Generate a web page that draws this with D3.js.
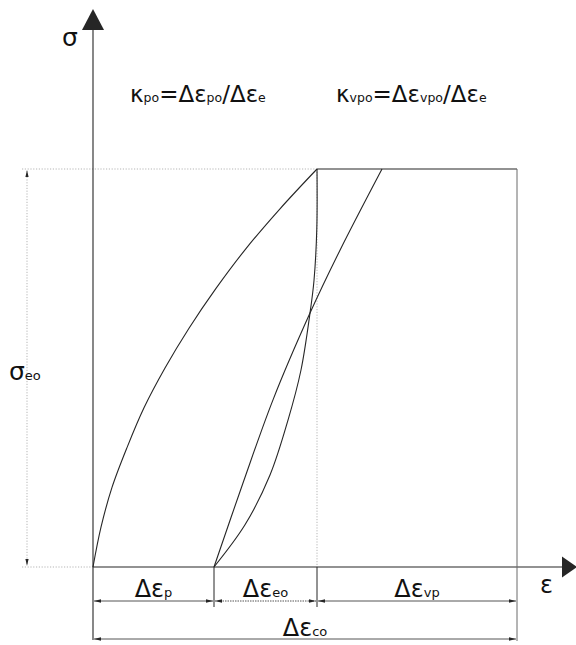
<!DOCTYPE html>
<html><head><meta charset="utf-8">
<script src="https://cdn.jsdelivr.net/npm/d3@7"></script>
<style>
html,body{margin:0;padding:0;background:#fff;}
svg{display:block;font-family:"DejaVu Sans","Liberation Sans",Arial,sans-serif;}
</style></head>
<body>
<svg id="c" width="576" height="645"></svg>
<script>
// ---- data (strain in arbitrary units, stress normalised to sigma_eo = 1) ----
const loadEps   = [0, 0.8, 1.9, 3.4, 5.1, 7.2, 9.6, 12.3, 15.3, 18.7, 22.4];
const loadSig   = [0, 0.1, 0.2, 0.3, 0.4, 0.5, 0.6, 0.7, 0.8, 0.9, 1.0];
const unloadEps = [22.4, 22.38, 22.1, 21.7, 20.8, 19.5, 17.7, 15.2, 12.1];
const unloadSig = [1.0, 0.85, 0.72, 0.638, 0.495, 0.369, 0.231, 0.106, 0];
const reloadEps = [12.1, 15.0, 18.0, 21.7, 24.7, 28.9];
const reloadSig = [0, 0.211, 0.420, 0.638, 0.796, 1.0];
const marks     = [0, 12.1, 22.4, 42.4];       // ε at: origin, Δεp end, Δεeo end, Δεvp end
const sigmaPeak = 1.0;
const segSubs   = ["p", "eo", "vp"];
const totalSub  = "co";

const svg = d3.select("#c");
const x = d3.scaleLinear().domain([0, 48.4]).range([93, 577]);
const y = d3.scaleLinear().domain([0, 1]).range([567, 169]);
const ink = "#262626";

const zip = (a, b) => a.map((v, i) => [v, b[i]]);
const line = d3.line().x(d => x(d[0])).y(d => y(d[1])).curve(d3.curveCatmullRom.alpha(0.5));

const dot = {stroke: "#b5b5b5", "stroke-width": 1, "stroke-dasharray": "1.2,1.6"};
function seg(x1, y1, x2, y2, st) {
  const l = svg.append("line").attr("x1", x1).attr("y1", y1).attr("x2", x2).attr("y2", y2);
  Object.entries(st).forEach(([k, v]) => l.attr(k, v));
  return l;
}
seg(22, y(sigmaPeak), x(marks[2]), y(sigmaPeak), dot);
seg(22, y(0), x(0), y(0), dot);
seg(x(marks[2]), y(sigmaPeak), x(marks[2]), y(0), dot);
seg(27, y(sigmaPeak) + 2, 27, y(0) - 2, dot);

function arrowHead(tx, ty, dir, len, hw) {
  const [dx, dy] = dir;
  const bx = tx - dx * len, by = ty - dy * len;
  const px = -dy * hw, py = dx * hw;
  svg.append("path").attr("d", `M${tx},${ty}L${bx + px},${by + py}L${bx - px},${by - py}Z`).attr("fill", ink);
}
arrowHead(27, y(sigmaPeak) + 1, [0, -1], 7, 1.6);
arrowHead(27, y(0) - 1, [0, 1], 7, 1.6);

// axes
seg(x(0), 640, x(0), 29, {stroke: ink, "stroke-width": 1.1});
arrowHead(x(0), 9, [0, -1], 21, 11);
seg(x(0), y(0), 563, y(0), {stroke: ink, "stroke-width": 1.1});
arrowHead(577, y(0), [1, 0], 15, 10.5);

// plateau and right boundary
seg(x(marks[2]), y(sigmaPeak), x(marks[3]), y(sigmaPeak), {stroke: ink, "stroke-width": 1.1});
seg(x(marks[3]), y(sigmaPeak), x(marks[3]), 641, {stroke: "#6a6a6a", "stroke-width": 1});

// curves
[[loadEps, loadSig], [unloadEps, unloadSig], [reloadEps, reloadSig]].forEach(([e, s]) => {
  svg.append("path").attr("d", line(zip(e, s))).attr("fill", "none").attr("stroke", ink).attr("stroke-width", 1.1);
});

// extension lines under axis
seg(x(marks[1]), y(0), x(marks[1]), 607, {stroke: ink, "stroke-width": 1});
seg(x(marks[2]), y(0), x(marks[2]), 607, {stroke: ink, "stroke-width": 1});

// dimension lines
const d1y = 601, d2y = 639;
for (let i = 0; i < 3; i++) {
  const a = x(marks[i]) + 1, b = x(marks[i + 1]) - 1;
  seg(a, d1y, b, d1y, i === 1 ? {stroke: "#555", "stroke-width": 1, "stroke-dasharray": "1.5,1"} : {stroke: "#555", "stroke-width": 1});
  arrowHead(a, d1y, [-1, 0], 7, 1.7);
  arrowHead(b, d1y, [1, 0], 7, 1.7);
}
seg(x(marks[0]) + 1, d2y, x(marks[3]) - 1, d2y, {stroke: "#555", "stroke-width": 1});
arrowHead(x(marks[0]) + 1, d2y, [-1, 0], 7, 1.7);
arrowHead(x(marks[3]) - 1, d2y, [1, 0], 7, 1.7);

function label(px, py, parts, anchor, big, small) {
  const t = svg.append("text").attr("x", px).attr("y", py).attr("text-anchor", anchor || "start").attr("fill", "#111");
  parts.forEach(([s, sm]) => t.append("tspan").attr("font-size", sm ? small : big).text(s));
  return t;
}
const B = 24, S = 13;
for (let i = 0; i < 3; i++) {
  label((x(marks[i]) + x(marks[i + 1])) / 2, 597, [["Δε", 0], [segSubs[i], 1]], "middle", B, S);
}
label((x(marks[0]) + x(marks[3])) / 2, 636, [["Δε", 0], [totalSub, 1]], "middle", B, S);

label(62, 46, [["σ", 0]], "start", 25, S);
label(553, 593, [["ε", 0]], "end", B, S);
label(9, 380, [["σ", 0], ["eo", 1]], "start", 25, S);

label(130, 102, [["κ", 0], ["po", 1], ["=Δε", 0], ["po", 1], ["/Δε", 0], ["e", 1]], "start", 23, 12.5);
label(336, 102, [["κ", 0], ["vpo", 1], ["=Δε", 0], ["vpo", 1], ["/Δε", 0], ["e", 1]], "start", 23, 12.5);
</script>
</body></html>
